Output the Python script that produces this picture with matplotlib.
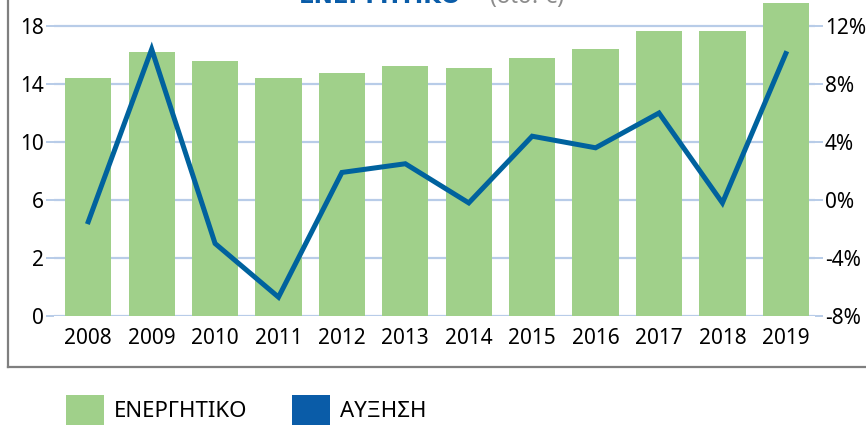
import matplotlib
matplotlib.use("Agg")
import matplotlib.pyplot as plt
import numpy as np
from matplotlib.patches import Patch
from matplotlib.lines import Line2D

years = ['2008', '2009', '2010', '2011', '2012', '2013',
         '2014', '2015', '2016', '2017', '2018', '2019']
assets = [14.8, 16.4, 15.8, 14.8, 15.1, 15.5, 15.4, 16.0, 16.6, 17.7, 17.7, 19.4]
growth = [-1.5, 10.4, -3.0, -6.7, 1.9, 2.5, -0.2, 4.4, 3.6, 6.0, -0.2, 10.1]

left_ticks = ['0', '2', '6', '10', '14', '18']
right_ticks = [-8, -4, 0, 4, 8, 12]

GREEN = '#a0d08a'
BLUE = '#00629e'
GRID = '#b8cce8'
FONT = ['Noto Sans', 'DejaVu Sans']

plt.rcParams['font.family'] = FONT
plt.rcParams['font.stretch'] = 'condensed'

W, H = 866, 426
fig = plt.figure(figsize=(W / 100, H / 100), dpi=100)
ax = fig.add_axes([54 / W, 1 - 316 / H, (815 - 54) / W, 316 / H])
ax2 = ax.twinx()

x = np.arange(len(years))
ax.bar(x, assets, width=0.73, color=GREEN, zorder=2)
ax2.plot(x, growth, color=BLUE, lw=3.6, solid_joinstyle='miter', zorder=3)

ax.set_xlim(-0.54, len(years) - 0.54)
ax.set_ylim(0, 18 * 316 / 290)
ax2.set_ylim(-8, -8 + 20 * 316 / 290)

ax.set_yticks(np.linspace(0, 18, 6))
ax.set_yticklabels(left_ticks)
ax2.set_yticks(right_ticks)
ax2.set_yticklabels([f'{v}%' for v in right_ticks])
ax.set_xticks(x)
ax.set_xticklabels(years)

ax.set_axisbelow(True)
ax.grid(axis='y', color=GRID, lw=1.6, zorder=0)
for a in (ax, ax2):
    for s in a.spines.values():
        s.set_visible(False)
ax.tick_params(axis='y', length=6, width=1.4, color=GRID, pad=1, labelsize=15)
ax2.tick_params(axis='y', length=6, width=1.4, color=GRID, pad=1, labelsize=15)
ax.tick_params(axis='x', length=0, pad=9, labelsize=15)

# title, mostly cut off at the top edge (as in the source image)
fig.text(299 / W, 1 - 3 / H, 'ΕΝΕΡΓΗΤΙΚΟ', color='#0a5ca8', fontsize=16.5,
         family='DejaVu Sans', fontweight='bold', fontstretch='normal',
         va='baseline', ha='left')
fig.text(490 / W, 1 - 3 / H, '(δισ. €)', color='#8c8c8c', fontsize=16.5,
         fontstretch='normal', va='baseline', ha='left')

# frame around the chart
fig.add_artist(Line2D([8 / W, 8 / W], [1 - 367 / H, 1.0], transform=fig.transFigure,
                      color='#7f7f7f', lw=1.6))
fig.add_artist(Line2D([8 / W, 1.0], [1 - 367 / H, 1 - 367 / H], transform=fig.transFigure,
                      color='#7f7f7f', lw=1.6))

# legend below the frame
entries = [('ΕΝΕΡΓΗΤΙΚΟ', GREEN, 66), ('ΑΥΞΗΣΗ', '#0a5ca8', 292)]
for label, col, px in entries:
    fig.legend(handles=[Patch(facecolor=col, edgecolor='none', label=label)],
               loc='center left', bbox_to_anchor=(px / W, 1 - 410 / H),
               frameon=False, fontsize=16, handlelength=1.7, handleheight=1.7,
               handletextpad=0.45, borderpad=0, borderaxespad=0)

fig.savefig('out.png', dpi=100)
